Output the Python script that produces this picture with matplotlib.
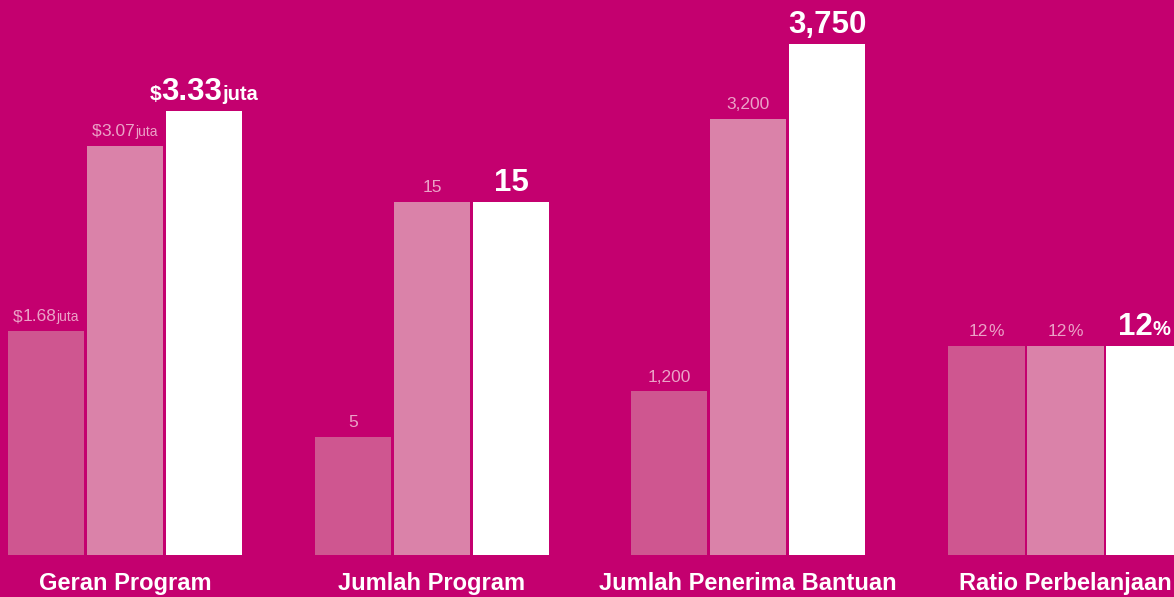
import matplotlib
matplotlib.use("Agg")
import matplotlib.pyplot as plt
from matplotlib.offsetbox import TextArea, HPacker, AnnotationBbox

plt.rcParams['font.family'] = ['Liberation Sans', 'DejaVu Sans']

groups = ["Geran Program", "Jumlah Program", "Jumlah Penerima Bantuan", "Ratio Perbelanjaan"]
values = [[1.68, 3.07, 3.33],
          [5, 15, 15],
          [1200, 3200, 3750],
          [12, 12, 12]]
prefixes = ["$", "", "", ""]
numbers = [["1.68", "3.07", "3.33"],
           ["5", "15", "15"],
           ["1,200", "3,200", "3,750"],
           ["12", "12", "12"]]
suffixes = ["juta", "", "", "%"]

bg = "#C4006F"
bar_colors = ["#CF5690", "#DA82A9", "#FFFFFF"]
pale = "#EBA2C7"

W, H = 1174, 597
fig = plt.figure(figsize=(W / 100, H / 100), dpi=100, facecolor=bg)

# per-group axes: left pixel, y-limit top
lefts = [6.5, 313.5, 629.5, 947]
ytops = [4.1625, 23.58, 4073, 31.87]
unit = 79
bottom_px = 555

for g in range(4):
    ax = fig.add_axes([lefts[g] / W, (H - bottom_px) / H, 3 * unit / W, bottom_px / H])
    ax.set_facecolor(bg)
    ax.patch.set_alpha(0)
    ax.set_xlim(-0.5, 2.5)
    ax.set_ylim(0, ytops[g])
    ax.axis("off")
    ax.bar(range(3), values[g], width=0.965, color=bar_colors, clip_on=False)

    for i in range(3):
        if i < 2:
            big = dict(color=pale, fontsize=12.5)
            small = dict(color=pale, fontsize=10 if suffixes[g] == "juta" else 12.5)
            pre = dict(color=pale, fontsize=12.5)
            off = 5
        else:
            big = dict(color="white", fontsize=22.5, fontweight="bold")
            small = dict(color="white", fontsize=14.5, fontweight="bold")
            pre = dict(color="white", fontsize=15, fontweight="bold")
            off = 3
        parts = []
        if prefixes[g]:
            parts.append(TextArea(prefixes[g], textprops=pre))
        parts.append(TextArea(numbers[g][i], textprops=big))
        if suffixes[g]:
            parts.append(TextArea(suffixes[g], textprops=small))
        box = HPacker(children=parts, align="baseline", pad=0, sep=0)
        ab = AnnotationBbox(box, (i, values[g][i]), xybox=(0, off), xycoords="data",
                            boxcoords="offset points", box_alignment=(0.5, 0),
                            frameon=False, pad=0, annotation_clip=False)
        ax.add_artist(ab)

    ax.annotate(groups[g], (1, 0), xytext=(0, -25), textcoords="offset points",
                ha="center", va="baseline", color="white",
                fontsize=17, fontweight="bold", annotation_clip=False)

fig.savefig("out.png", dpi=100, facecolor=bg)
